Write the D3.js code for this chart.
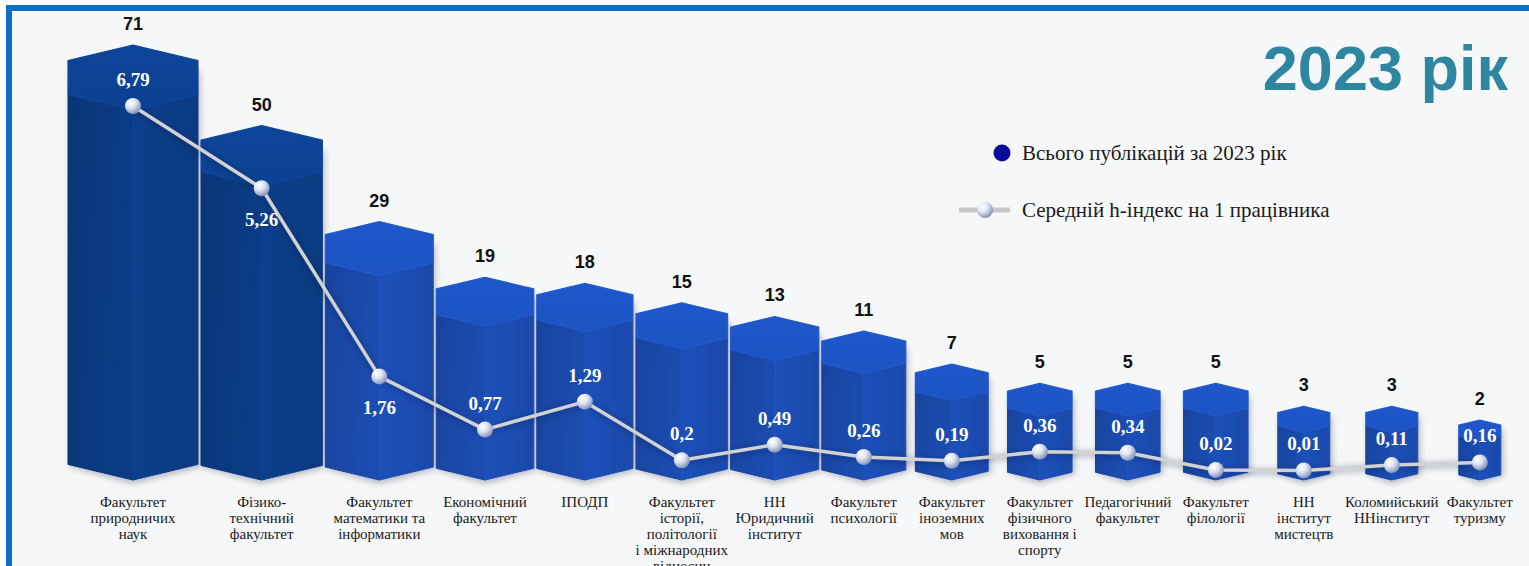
<!DOCTYPE html>
<html>
<head>
<meta charset="utf-8">
<script src="https://cdn.jsdelivr.net/npm/d3@7"></script>
<style>
  body { margin: 0; background: #fff; }
  svg { display: block; }
  .count { font-family: "Liberation Sans", Arial, sans-serif; font-weight: bold; font-size: 18px; fill: #111; text-anchor: middle; }
  .hval { font-family: "Liberation Serif", "Times New Roman", serif; font-weight: bold; font-size: 19px; fill: #fff; text-anchor: middle; }
  .cat { font-family: "Liberation Serif", "Times New Roman", serif; font-size: 15px; fill: #1a1a1a; text-anchor: middle; }
  .legend { font-family: "Liberation Serif", "Times New Roman", serif; font-size: 21px; fill: #1a1a1a; }
  .year { font-family: "Liberation Sans", Arial, sans-serif; font-weight: bold; font-size: 63px; fill: #2e86a1; text-anchor: end; }
</style>
</head>
<body>
<script>
// faculties (label lines split by "|")
var categories = [
    "Факультет|природничих|наук",
    "Фізико-|технічний|факультет",
    "Факультет|математики та|інформатики",
    "Економічний|факультет",
    "ІПОДП",
    "Факультет|історії,|політології|і міжнародних|відносин",
    "НН|Юридичний|інститут",
    "Факультет|психології",
    "Факультет|іноземних|мов",
    "Факультет|фізичного|виховання і|спорту",
    "Педагогічний|факультет",
    "Факультет|філології",
    "НН|інститут|мистецтв",
    "Коломийський|ННінститут",
    "Факультет|туризму"
];

// total publications in 2023
var publications = [71, 50, 29, 19, 18, 15, 13, 11, 7, 5, 5, 5, 3, 3, 2];

// average h-index per employee
var hIndex = [6.79, 5.26, 1.76, 0.77, 1.29, 0.2, 0.49, 0.26, 0.19, 0.36, 0.34, 0.02, 0.01, 0.11, 0.16];

var legendLabels = ["Всього публікацій за 2023 рік", "Середній h-індекс на 1 працівника"];
var yearTitle = "2023 рік";

window.onload = drawChart();

function drawChart(){
    var width = 1529,
        height = 566,
        baseY = 480,
        leftEdge = 68;

    var svg = d3.select("body")
        .append("svg")
        .attr("width", width)
        .attr("height", height);

    var defs = svg.append("defs");

    //frame
    svg.append("rect")
        .attr("x", 9)
        .attr("y", 8)
        .attr("width", width + 40)
        .attr("height", height + 40)
        .attr("fill", "#f5f7f9")
        .attr("stroke", "#0b6fc6")
        .attr("stroke-width", 6);

    //bar width and height scales
    var wScale = d3.scaleLog()
        .domain([2, 71])
        .range([42, 130]);

    var hScale = d3.scalePow()
        .exponent(0.6)
        .domain([2, 71])
        .range([60, 435]);

    var yScale = d3.scaleLinear()
        .domain([0, 6.79])
        .range([471, 106]);

    var colorScale = d3.scaleLinear()
        .domain([29, 50])
        .range(["#1c50ba", "#0c3f8c"])
        .clamp(true);

    //build bar layout from the data
    var bars = [];
    var x = leftEdge;
    for (var i = 0; i < publications.length; i++){
        var w = wScale(publications[i]);
        var cx;
        if (i == 0){
            cx = x + w / 2;
        } else {
            var prev = bars[i - 1];
            cx = prev.cx + Math.max((prev.w + w) / 2 + 3, 88);
        }
        bars.push({
            i: i,
            name: categories[i],
            pubs: publications[i],
            h: hIndex[i],
            w: w,
            cx: cx,
            top: baseY - hScale(publications[i]),
            color: colorScale(publications[i])
        });
    };

    //gradients per bar
    bars.forEach(function(d){
        var c = d3.color(d.color);
        var g1 = defs.append("linearGradient")
            .attr("id", "top" + d.i)
            .attr("x1", 0).attr("y1", 0).attr("x2", 0).attr("y2", 1);
        g1.append("stop").attr("offset", "0%").attr("stop-color", c.brighter(0.25));
        g1.append("stop").attr("offset", "100%").attr("stop-color", c.brighter(0.1));

        var g2 = defs.append("linearGradient")
            .attr("id", "left" + d.i)
            .attr("x1", 0).attr("y1", 0).attr("x2", 1).attr("y2", 0.3);
        g2.append("stop").attr("offset", "0%").attr("stop-color", c.darker(0.45));
        g2.append("stop").attr("offset", "100%").attr("stop-color", c.darker(0.15));

        var g3 = defs.append("linearGradient")
            .attr("id", "right" + d.i)
            .attr("x1", 0).attr("y1", 0).attr("x2", 1).attr("y2", 0);
        g3.append("stop").attr("offset", "0%").attr("stop-color", c.brighter(0.0));
        g3.append("stop").attr("offset", "100%").attr("stop-color", c.darker(0.25));
    });

    var sphere = defs.append("radialGradient")
        .attr("id", "sphere")
        .attr("cx", "35%").attr("cy", "30%").attr("r", "70%");
    sphere.append("stop").attr("offset", "0%").attr("stop-color", "#ffffff");
    sphere.append("stop").attr("offset", "45%").attr("stop-color", "#dfe5f2");
    sphere.append("stop").attr("offset", "100%").attr("stop-color", "#8796bd");

    var shadow = defs.append("filter")
        .attr("id", "soft")
        .attr("x", "-20%").attr("y", "-20%").attr("width", "140%").attr("height", "140%");
    shadow.append("feGaussianBlur").attr("stdDeviation", 3);

    //hexagonal prisms
    var line = d3.line();

    var barGroup = svg.append("g").attr("class", "bars");

    var g = barGroup.selectAll(".bar")
        .data(bars)
        .enter()
        .append("g")
        .attr("class", "bar");

    //soft ground shadow
    g.append("path")
        .attr("d", function(d){
            var l = d.cx - d.w / 2, r = d.cx + d.w / 2;
            return line([[l + 2, d.top + 0.2 * d.w], [r + 2, d.top + 0.2 * d.w], [r + 3, baseY - 0.1 * d.w], [d.cx, baseY + 4], [l + 2, baseY - 0.1 * d.w]]) + "Z";
        })
        .attr("fill", "rgba(0,0,30,0.25)")
        .attr("filter", "url(#soft)");

    //front-left face
    g.append("path")
        .attr("d", function(d){
            var l = d.cx - d.w / 2;
            return line([[l, d.top + 0.38 * d.w], [d.cx, d.top + 0.5 * d.w], [d.cx, baseY], [l, baseY - 0.12 * d.w]]) + "Z";
        })
        .attr("fill", function(d){ return "url(#left" + d.i + ")"; })
        .attr("stroke", function(d){ return d3.color(d.color).darker(0.4); })
        .attr("stroke-width", 1)
        .attr("stroke-linejoin", "round");

    //front-right face
    g.append("path")
        .attr("d", function(d){
            var r = d.cx + d.w / 2;
            return line([[d.cx, d.top + 0.5 * d.w], [r, d.top + 0.38 * d.w], [r, baseY - 0.12 * d.w], [d.cx, baseY]]) + "Z";
        })
        .attr("fill", function(d){ return "url(#right" + d.i + ")"; })
        .attr("stroke", function(d){ return d3.color(d.color); })
        .attr("stroke-width", 1)
        .attr("stroke-linejoin", "round");

    //top face
    g.append("path")
        .attr("d", function(d){
            var l = d.cx - d.w / 2, r = d.cx + d.w / 2;
            return line([[d.cx, d.top], [r, d.top + 0.12 * d.w], [r, d.top + 0.38 * d.w], [d.cx, d.top + 0.5 * d.w], [l, d.top + 0.38 * d.w], [l, d.top + 0.12 * d.w]]) + "Z";
        })
        .attr("fill", function(d){ return "url(#top" + d.i + ")"; })
        .attr("stroke", function(d){ return d3.color(d.color).brighter(0.35); })
        .attr("stroke-width", 1.2)
        .attr("stroke-linejoin", "round");

    //front vertical edge highlight
    g.append("line")
        .attr("x1", function(d){ return d.cx; })
        .attr("x2", function(d){ return d.cx; })
        .attr("y1", function(d){ return d.top + 0.5 * d.w; })
        .attr("y2", baseY)
        .attr("stroke", function(d){ return d3.color(d.color).brighter(0.3); })
        .attr("stroke-width", 1)
        .attr("opacity", 0.5);

    //publication counts
    svg.selectAll(".count")
        .data(bars)
        .enter()
        .append("text")
        .attr("class", "count")
        .attr("x", function(d){ return d.cx; })
        .attr("y", function(d){ return d.top - 15; })
        .text(function(d){ return d.pubs; });

    //h-index line
    var hLine = d3.line()
        .x(function(d){ return d.cx; })
        .y(function(d){ return yScale(d.h); });

    svg.append("path")
        .datum(bars)
        .attr("d", hLine)
        .attr("fill", "none")
        .attr("stroke", "rgba(20,30,60,0.3)")
        .attr("stroke-width", 5)
        .attr("transform", "translate(0,1.5)")
        .attr("filter", "url(#soft)");

    svg.append("path")
        .datum(bars)
        .attr("d", hLine)
        .attr("fill", "none")
        .attr("stroke", "#d2d2d2")
        .attr("stroke-width", 3.5)
        .attr("stroke-linejoin", "round");

    svg.selectAll(".dot")
        .data(bars)
        .enter()
        .append("circle")
        .attr("class", "dot")
        .attr("cx", function(d){ return d.cx; })
        .attr("cy", function(d){ return yScale(d.h); })
        .attr("r", 8)
        .attr("fill", "url(#sphere)");

    //h-index labels: below the point when the line drops steeply into it
    svg.selectAll(".hval")
        .data(bars)
        .enter()
        .append("text")
        .attr("class", "hval")
        .attr("x", function(d){ return d.cx; })
        .attr("y", function(d, i){
            var py = yScale(d.h);
            if (i > 0 && hIndex[i - 1] - d.h > 1.2){
                return py + 38;
            }
            return py - 20;
        })
        .text(function(d){ return String(d.h).replace(".", ","); });

    //category labels
    var cats = svg.selectAll(".cat")
        .data(bars)
        .enter()
        .append("text")
        .attr("class", "cat")
        .attr("y", 507);

    cats.selectAll("tspan")
        .data(function(d){
            return d.name.split("|").map(function(t){ return {t: t, cx: d.cx}; });
        })
        .enter()
        .append("tspan")
        .attr("x", function(d){ return d.cx; })
        .attr("dy", function(d, i){ return i == 0 ? 0 : 16; })
        .text(function(d){ return d.t; });

    //year title
    svg.append("text")
        .attr("class", "year")
        .attr("x", 1508)
        .attr("y", 90)
        .text(yearTitle);

    //legend
    var legend = svg.append("g").attr("transform", "translate(1002,153)");

    legend.append("circle")
        .attr("r", 8.5)
        .attr("fill", "#0a0a9c");

    legend.append("text")
        .attr("class", "legend")
        .attr("x", 20)
        .attr("y", 7)
        .text(legendLabels[0]);

    legend.append("line")
        .attr("x1", -43)
        .attr("x2", 8)
        .attr("y1", 57)
        .attr("y2", 57)
        .attr("stroke", "#c8c8c8")
        .attr("stroke-width", 5);

    legend.append("circle")
        .attr("cx", -17)
        .attr("cy", 57)
        .attr("r", 8)
        .attr("fill", "url(#sphere)");

    legend.append("text")
        .attr("class", "legend")
        .attr("x", 20)
        .attr("y", 64)
        .text(legendLabels[1]);
};
</script>
</body>
</html>
